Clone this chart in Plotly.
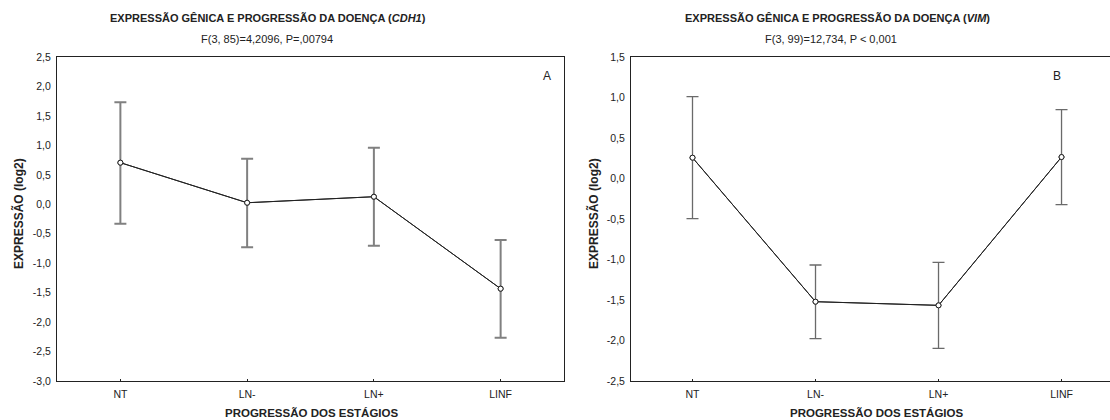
import plotly.graph_objects as go

# ---------------- data ----------------
stages = ["NT", "LN-", "LN+", "LINF"]

cdh1_mean = [0.706, 0.026, 0.128, -1.433]
cdh1_upper = [1.73, 0.773, 0.960, -0.607]
cdh1_lower = [-0.33, -0.731, -0.703, -2.265]

vim_mean = [0.257, -1.521, -1.566, 0.265]
vim_upper = [1.010, -1.068, -1.035, 0.850]
vim_lower = [-0.496, -1.977, -2.097, -0.323]

cdh1_ticks = [2.5, 2.0, 1.5, 1.0, 0.5, 0.0, -0.5, -1.0, -1.5, -2.0, -2.5, -3.0]
cdh1_ticktext = ["2,5", "2,0", "1,5", "1,0", "0,5", "0,0", "-0,5", "-1,0", "-1,5", "-2,0", "-2,5", "-3,0"]
vim_ticks = [1.5, 1.0, 0.5, 0.0, -0.5, -1.0, -1.5, -2.0, -2.5]
vim_ticktext = ["1,5", "1,0", "0,5", "0,0", "-0,5", "-1,0", "-1,5", "-2,0", "-2,5"]

title_a = "<b>EXPRESSÃO GÊNICA E PROGRESSÃO DA DOENÇA (<i>CDH1</i>)</b>"
sub_a = "F(3, 85)=4,2096, P=,00794"
title_b = "<b>EXPRESSÃO GÊNICA E PROGRESSÃO DA DOENÇA (<i>VIM</i>)</b>"
sub_b = "F(3, 99)=12,734, P &lt; 0,001"
ytitle = "<b>EXPRESSÃO (log2)</b>"
xtitle = "<b>PROGRESSÃO DOS ESTÁGIOS</b>"

# ---------------- layout geometry (pixels) ----------------
W, H = 1110, 420
ML, MR, MT, MB = 57, 0, 57, 39
PW = W - ML - MR
PH = H - MT - MB


def px(x):
    return (x - ML) / PW


def py(y):
    return (H - MB - y) / PH


FONT = "Liberation Sans, Arial, sans-serif"
TXT = "#222222"

fig = go.Figure()


def add_series(mean, upper, lower, xa, ya, ecolor, ethick):
    fig.add_trace(go.Scatter(
        x=stages, y=mean, xaxis=xa, yaxis=ya, mode="lines+markers",
        line=dict(color="#222222", width=1),
        marker=dict(symbol="circle", size=5, color="white",
                    line=dict(color="#222222", width=1)),
        error_y=dict(type="data", symmetric=False,
                     array=[u - m for u, m in zip(upper, mean)],
                     arrayminus=[m - l for m, l in zip(mean, lower)],
                     color=ecolor, thickness=ethick, width=6),
        showlegend=False, hoverinfo="skip",
    ))
    # redraw line+markers on top of error bars
    fig.add_trace(go.Scatter(
        x=stages, y=mean, xaxis=xa, yaxis=ya, mode="lines+markers",
        line=dict(color="#222222", width=1),
        marker=dict(symbol="circle", size=5, color="white",
                    line=dict(color="#222222", width=1)),
        showlegend=False, hoverinfo="skip",
    ))


add_series(cdh1_mean, cdh1_upper, cdh1_lower, "x", "y", "#808080", 2)
add_series(vim_mean, vim_upper, vim_lower, "x2", "y2", "#6a6a6a", 1.3)

axis_common = dict(showgrid=False, zeroline=False, showline=True,
                   linecolor="#222222", linewidth=1,
                   tickfont=dict(family=FONT, size=10.5, color=TXT))

left_dom = [0, px(564)]
right_dom = [px(631), 1]

fig.update_layout(
    width=W, height=H,
    margin=dict(l=ML, r=MR, t=MT, b=MB),
    paper_bgcolor="white", plot_bgcolor="white",
    font=dict(family=FONT, color=TXT),
    xaxis=dict(domain=left_dom, range=[-0.5, 3.5], mirror=True,
               ticks="inside", ticklen=2, tickcolor="#222222",
               ticklabelstandoff=3,
               type="category", anchor="y", **axis_common),
    yaxis=dict(domain=[0, 1], range=[-3.0, 2.5], mirror=True,
               tickvals=cdh1_ticks, ticktext=cdh1_ticktext,
               ticks="", ticklabelstandoff=3, anchor="x", **axis_common),
    xaxis2=dict(domain=right_dom, range=[-0.5, 3.394], mirror=True,
                ticks="inside", ticklen=2, tickcolor="#222222",
                ticklabelstandoff=3,
                type="category", anchor="y2", **axis_common),
    yaxis2=dict(domain=[0, 1], range=[-2.5, 1.5], mirror=False,
                tickvals=vim_ticks, ticktext=vim_ticktext,
                ticks="", ticklabelstandoff=3, anchor="x2", **axis_common),
)

ann = []


def txt(text, x, y, size, angle=0, xanchor="center"):
    ann.append(dict(text=text, x=px(x), y=py(y), xref="paper", yref="paper",
                    showarrow=False, textangle=angle, xanchor=xanchor,
                    yanchor="middle",
                    font=dict(family=FONT, size=size, color=TXT)))


txt(title_a, 268, 18, 11)
txt(sub_a, 267, 39, 11)
txt(title_b, 837, 18, 11)
txt(sub_b, 831, 39, 11)
txt(ytitle, 18, 214, 12, angle=-90)
txt(ytitle, 593, 214, 12, angle=-90)
txt(xtitle, 311, 413, 11.5)
txt(xtitle, 876, 413, 11.5)
txt("A", 547, 76, 12)
txt("B", 1057, 76, 12)

fig.update_layout(annotations=ann)
fig.write_html("out.html")
